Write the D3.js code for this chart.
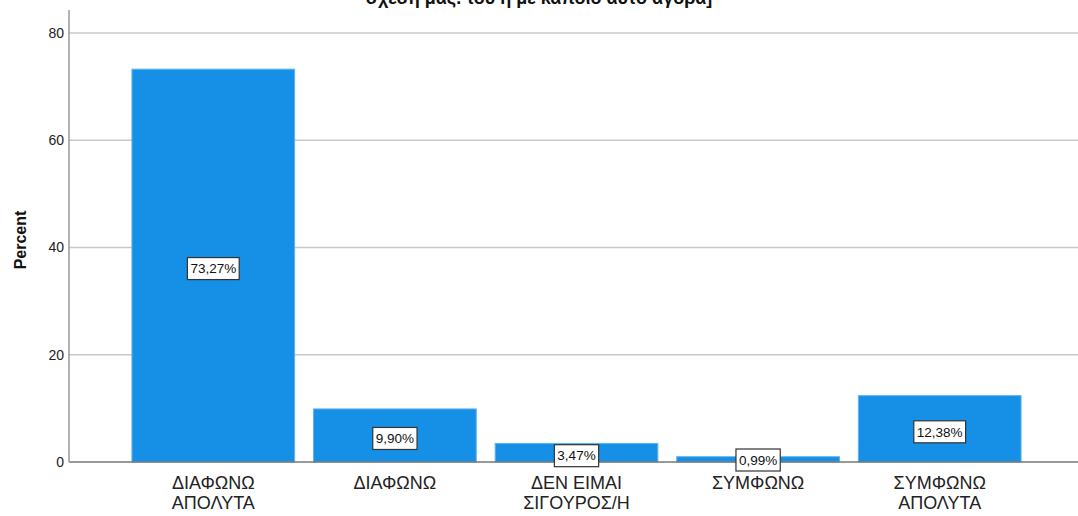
<!DOCTYPE html>
<html>
<head>
<meta charset="utf-8">
<script src="https://cdn.jsdelivr.net/npm/d3@7"></script>
<style>
  body { margin: 0; background: #fff; }
  svg { display: block; font-family: "Liberation Sans", Arial, sans-serif; }
</style>
</head>
<body>
<div id="container"></div>
<script>
/* DATA */
const categories = ["ΔΙΑΦΩΝΩ ΑΠΟΛΥΤΑ", "ΔΙΑΦΩΝΩ", "ΔΕΝ ΕΙΜΑΙ ΣΙΓΟΥΡΟΣ/Η", "ΣΥΜΦΩΝΩ", "ΣΥΜΦΩΝΩ ΑΠΟΛΥΤΑ"];
const labelLines = [["ΔΙΑΦΩΝΩ", "ΑΠΟΛΥΤΑ"], ["ΔΙΑΦΩΝΩ"], ["ΔΕΝ ΕΙΜΑΙ", "ΣΙΓΟΥΡΟΣ/Η"], ["ΣΥΜΦΩΝΩ"], ["ΣΥΜΦΩΝΩ", "ΑΠΟΛΥΤΑ"]];
const percents = [73.27, 9.90, 3.47, 0.99, 12.38];
const yTicks = [0, 20, 40, 60, 80];
const title = "σχέση μας. του η με κάποιο αυτό αγορά]";

/* CONSTANTS */
const width = 1078, height = 516;
const margin = {top: 10, bottom: 54, left: 69, right: 0};

const svg = d3.select("#container")
  .append("svg")
  .attr("width", width)
  .attr("height", height);

/* SCALES */
const xScale = d3.scaleBand()
  .domain(categories)
  .range([margin.left + 3, width + 3])
  .paddingInner(0.104)
  .paddingOuter(0.33);

const yScale = d3.scaleLinear()
  .domain([0, 84.3])
  .range([height - margin.bottom, margin.top]);

// gridlines
svg.selectAll("line.grid")
  .data(yTicks.filter(d => d > 0))
  .join("line")
  .attr("class", "grid")
  .attr("x1", margin.left)
  .attr("x2", width)
  .attr("y1", d => yScale(d))
  .attr("y2", d => yScale(d))
  .attr("stroke", "#c8c8c8")
  .attr("stroke-width", 1.5);

// bars
svg.selectAll("rect.bar")
  .data(percents)
  .join("rect")
  .attr("class", "bar")
  .attr("x", (d, i) => xScale(categories[i]))
  .attr("y", d => yScale(d))
  .attr("width", xScale.bandwidth())
  .attr("height", d => yScale(0) - yScale(d))
  .attr("fill", "#1590e6")
  .attr("stroke", "#62b3f0")
  .attr("stroke-width", 1);

// axes lines
svg.append("line")
  .attr("x1", margin.left).attr("x2", width)
  .attr("y1", yScale(0)).attr("y2", yScale(0))
  .attr("stroke", "#777").attr("stroke-width", 1.5);

svg.append("line")
  .attr("x1", margin.left).attr("x2", margin.left)
  .attr("y1", margin.top).attr("y2", yScale(0))
  .attr("stroke", "#999").attr("stroke-width", 1.5);

// y tick labels
svg.selectAll("text.ytick")
  .data(yTicks)
  .join("text")
  .attr("class", "ytick")
  .attr("x", margin.left - 5)
  .attr("y", d => yScale(d))
  .attr("dy", "0.35em")
  .attr("text-anchor", "end")
  .attr("font-size", 14)
  .attr("fill", "#222")
  .text(d => d);

// y title
svg.append("text")
  .attr("transform", `translate(26,240) rotate(-90)`)
  .attr("text-anchor", "middle")
  .attr("font-size", 16)
  .attr("font-weight", "bold")
  .attr("fill", "#111")
  .text("Percent");

// x labels
const xl = svg.selectAll("text.xlab")
  .data(labelLines)
  .join("text")
  .attr("class", "xlab")
  .attr("x", (d, i) => xScale(categories[i]) + xScale.bandwidth() / 2)
  .attr("y", 489)
  .attr("text-anchor", "middle")
  .attr("font-size", 18)
  .attr("fill", "#222");
xl.selectAll("tspan")
  .data(d => d)
  .join("tspan")
  .attr("x", function() { return this.parentNode.getAttribute("x"); })
  .attr("dy", (d, i) => i === 0 ? 0 : 20)
  .text(d => d);

// value labels
const fmt = v => v.toFixed(2).replace(".", ",") + "%";
const lab = svg.selectAll("g.vlab")
  .data(percents)
  .join("g")
  .attr("class", "vlab")
  .attr("transform", (d, i) => {
    const cx = xScale(categories[i]) + xScale.bandwidth() / 2;
    const cy = Math.min((yScale(d) + yScale(0)) / 2 + 3, yScale(0) - 2);
    return `translate(${cx},${cy})`;
  });
lab.append("text")
  .attr("text-anchor", "middle")
  .attr("dy", "0.35em")
  .attr("font-size", 13.5)
  .attr("fill", "#111")
  .text(d => fmt(d));
lab.each(function() {
  const g = d3.select(this);
  const bb = g.select("text").node().getBBox();
  g.insert("rect", "text")
    .attr("x", bb.x - 3)
    .attr("y", -11)
    .attr("width", bb.width + 6)
    .attr("height", 22)
    .attr("fill", "#fff")
    .attr("stroke", "#333")
    .attr("stroke-width", 1.2);
});

// title (cut off at top, as in the source)
svg.append("text")
  .attr("x", 539)
  .attr("y", 4)
  .attr("text-anchor", "middle")
  .attr("font-size", 18)
  .attr("font-weight", "bold")
  .attr("fill", "#111")
  .text(title);
</script>
</body>
</html>
